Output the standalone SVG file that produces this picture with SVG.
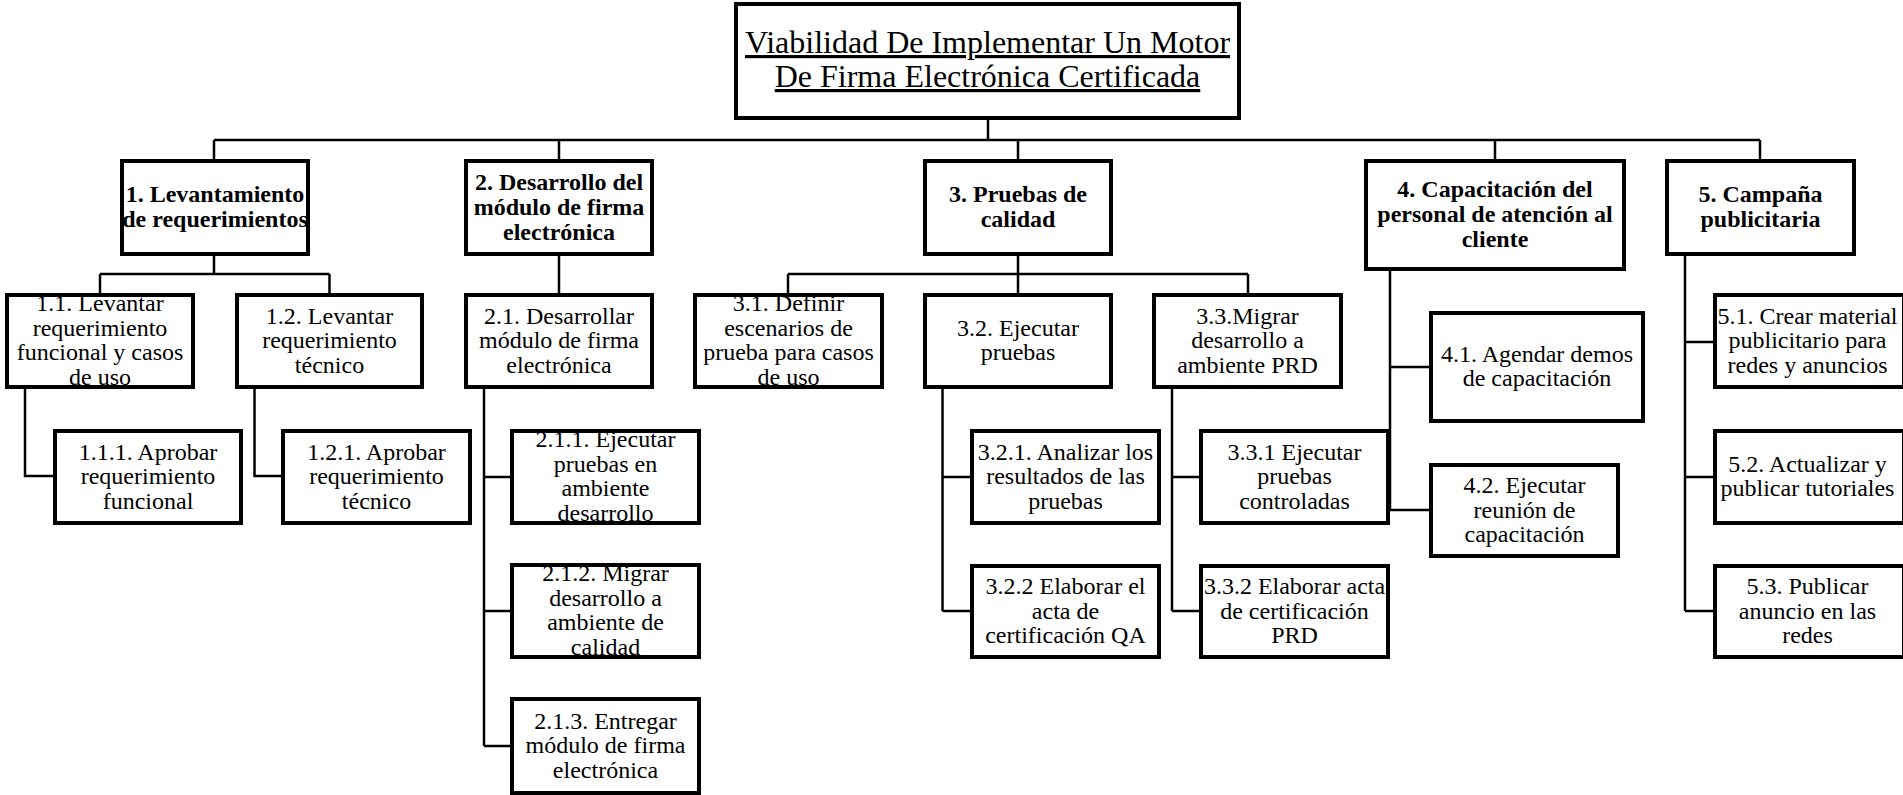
<svg xmlns="http://www.w3.org/2000/svg" width="1903" height="795" viewBox="0 0 1903 795">
<style>
.b{fill:#fff;stroke:#000;stroke-width:4}
.c{fill:none;stroke:#000;stroke-width:2.5}
text{font-family:"Liberation Serif","Times New Roman",serif;font-size:24px;fill:#000;text-anchor:middle}
.h{font-weight:bold}
.t{font-size:32px;text-decoration:underline}
</style>
<rect width="1903" height="795" fill="#fff"/>
<g id="connectors">
<path class="c" d="M988 120V140M214 140H1760M214 140V159M559 140V159M1018 140V159M1495 140V159M1760 140V159"/>
<path class="c" d="M214 256V274M100 274H329.5M100 274V293M329.5 274V293M25 389V476H53M254.5 389V476H281"/>
<path class="c" d="M559 256V293M484 389V746M484 477H510M484 611H510M484 746H510"/>
<path class="c" d="M1018 256V274M788 274H1248M788 274V293M1018 274V293M1248 274V293M942.5 389V611M942.5 477H970M942.5 611H970M1172 389V611M1172 477H1199M1172 611H1199"/>
<path class="c" d="M1390 271V510M1390 367H1429M1390 510H1429"/>
<path class="c" d="M1685 256V611M1685 342H1713M1685 477H1713M1685 611H1713"/>
</g>
<g id="root"><rect class="b" x="736" y="4" width="503" height="114"/>
<text class="t"><tspan x="987.5" y="53">Viabilidad De Implementar Un Motor</tspan><tspan x="987.5" y="87">De Firma Electrónica Certificada</tspan></text></g>
<g id="n1"><rect class="b" x="122" y="161" width="186" height="93"/>
<text class="h"><tspan x="215" y="202">1. Levantamiento</tspan><tspan x="215" y="227">de requerimientos</tspan></text></g>
<g id="n2"><rect class="b" x="466" y="161" width="186" height="93"/>
<text class="h"><tspan x="559" y="190">2. Desarrollo del</tspan><tspan x="559" y="215">módulo de firma</tspan><tspan x="559" y="240">electrónica</tspan></text></g>
<g id="n3"><rect class="b" x="925" y="161" width="186" height="93"/>
<text class="h"><tspan x="1018" y="202">3. Pruebas de</tspan><tspan x="1018" y="227">calidad</tspan></text></g>
<g id="n4"><rect class="b" x="1366" y="161" width="258" height="108"/>
<text class="h"><tspan x="1495" y="197">4. Capacitación del</tspan><tspan x="1495" y="222">personal de atención al</tspan><tspan x="1495" y="247">cliente</tspan></text></g>
<g id="n5"><rect class="b" x="1667" y="161" width="187" height="93"/>
<text class="h"><tspan x="1760.5" y="202">5. Campaña</tspan><tspan x="1760.5" y="227">publicitaria</tspan></text></g>
<g id="n1_1"><rect class="b" x="7" y="295" width="186" height="92"/>
<text><tspan x="100" y="311.3">1.1. Levantar</tspan><tspan x="100" y="335.8">requerimiento</tspan><tspan x="100" y="360.3">funcional y casos</tspan><tspan x="100" y="384.8">de uso</tspan></text></g>
<g id="n1_2"><rect class="b" x="237" y="295" width="185" height="92"/>
<text><tspan x="329.5" y="323.5">1.2. Levantar</tspan><tspan x="329.5" y="348">requerimiento</tspan><tspan x="329.5" y="372.5">técnico</tspan></text></g>
<g id="n2_1"><rect class="b" x="466" y="295" width="186" height="92"/>
<text><tspan x="559" y="323.5">2.1. Desarrollar</tspan><tspan x="559" y="348">módulo de firma</tspan><tspan x="559" y="372.5">electrónica</tspan></text></g>
<g id="n3_1"><rect class="b" x="695" y="295" width="187" height="92"/>
<text><tspan x="788.5" y="311.3">3.1. Definir</tspan><tspan x="788.5" y="335.8">escenarios de</tspan><tspan x="788.5" y="360.3">prueba para casos</tspan><tspan x="788.5" y="384.8">de uso</tspan></text></g>
<g id="n3_2"><rect class="b" x="925" y="295" width="186" height="92"/>
<text><tspan x="1018" y="335.8">3.2. Ejecutar</tspan><tspan x="1018" y="360.3">pruebas</tspan></text></g>
<g id="n3_3"><rect class="b" x="1154" y="295" width="187" height="92"/>
<text><tspan x="1247.5" y="323.5">3.3.Migrar</tspan><tspan x="1247.5" y="348">desarrollo a</tspan><tspan x="1247.5" y="372.5">ambiente PRD</tspan></text></g>
<g id="n1_1_1"><rect class="b" x="55" y="431" width="186" height="92"/>
<text><tspan x="148" y="459.5">1.1.1. Aprobar</tspan><tspan x="148" y="484">requerimiento</tspan><tspan x="148" y="508.5">funcional</tspan></text></g>
<g id="n1_2_1"><rect class="b" x="283" y="431" width="187" height="92"/>
<text><tspan x="376.5" y="459.5">1.2.1. Aprobar</tspan><tspan x="376.5" y="484">requerimiento</tspan><tspan x="376.5" y="508.5">técnico</tspan></text></g>
<g id="n2_1_1"><rect class="b" x="512" y="431" width="187" height="92"/>
<text><tspan x="605.5" y="447.3">2.1.1. Ejecutar</tspan><tspan x="605.5" y="471.8">pruebas en</tspan><tspan x="605.5" y="496.3">ambiente</tspan><tspan x="605.5" y="520.8">desarrollo</tspan></text></g>
<g id="n2_1_2"><rect class="b" x="512" y="565" width="187" height="92"/>
<text><tspan x="605.5" y="581.3">2.1.2. Migrar</tspan><tspan x="605.5" y="605.8">desarrollo a</tspan><tspan x="605.5" y="630.3">ambiente de</tspan><tspan x="605.5" y="654.8">calidad</tspan></text></g>
<g id="n2_1_3"><rect class="b" x="512" y="699" width="187" height="94"/>
<text><tspan x="605.5" y="728.5">2.1.3. Entregar</tspan><tspan x="605.5" y="753">módulo de firma</tspan><tspan x="605.5" y="777.5">electrónica</tspan></text></g>
<g id="n3_2_1"><rect class="b" x="972" y="431" width="187" height="92"/>
<text><tspan x="1065.5" y="459.5">3.2.1. Analizar los</tspan><tspan x="1065.5" y="484">resultados de las</tspan><tspan x="1065.5" y="508.5">pruebas</tspan></text></g>
<g id="n3_2_2"><rect class="b" x="972" y="566" width="187" height="91"/>
<text><tspan x="1065.5" y="594">3.2.2 Elaborar el</tspan><tspan x="1065.5" y="618.5">acta de</tspan><tspan x="1065.5" y="643">certificación QA</tspan></text></g>
<g id="n3_3_1"><rect class="b" x="1201" y="431" width="187" height="92"/>
<text><tspan x="1294.5" y="459.5">3.3.1 Ejecutar</tspan><tspan x="1294.5" y="484">pruebas</tspan><tspan x="1294.5" y="508.5">controladas</tspan></text></g>
<g id="n3_3_2"><rect class="b" x="1201" y="566" width="187" height="91"/>
<text><tspan x="1294.5" y="594">3.3.2 Elaborar acta</tspan><tspan x="1294.5" y="618.5">de certificación</tspan><tspan x="1294.5" y="643">PRD</tspan></text></g>
<g id="n4_1"><rect class="b" x="1431" y="313" width="212" height="108"/>
<text><tspan x="1537" y="361.8">4.1. Agendar demos</tspan><tspan x="1537" y="386.3">de capacitación</tspan></text></g>
<g id="n4_2"><rect class="b" x="1431" y="465" width="187" height="91"/>
<text><tspan x="1524.5" y="493">4.2. Ejecutar</tspan><tspan x="1524.5" y="517.5">reunión de</tspan><tspan x="1524.5" y="542">capacitación</tspan></text></g>
<g id="n5_1"><rect class="b" x="1715" y="295" width="189" height="92"/>
<text><tspan x="1807.5" y="323.5">5.1. Crear material</tspan><tspan x="1807.5" y="348">publicitario para</tspan><tspan x="1807.5" y="372.5">redes y anuncios</tspan></text></g>
<g id="n5_2"><rect class="b" x="1715" y="431" width="189" height="92"/>
<text><tspan x="1807.5" y="471.8">5.2. Actualizar y</tspan><tspan x="1807.5" y="496.3">publicar tutoriales</tspan></text></g>
<g id="n5_3"><rect class="b" x="1715" y="566" width="189" height="91"/>
<text><tspan x="1807.5" y="594">5.3. Publicar</tspan><tspan x="1807.5" y="618.5">anuncio en las</tspan><tspan x="1807.5" y="643">redes</tspan></text></g>
</svg>
